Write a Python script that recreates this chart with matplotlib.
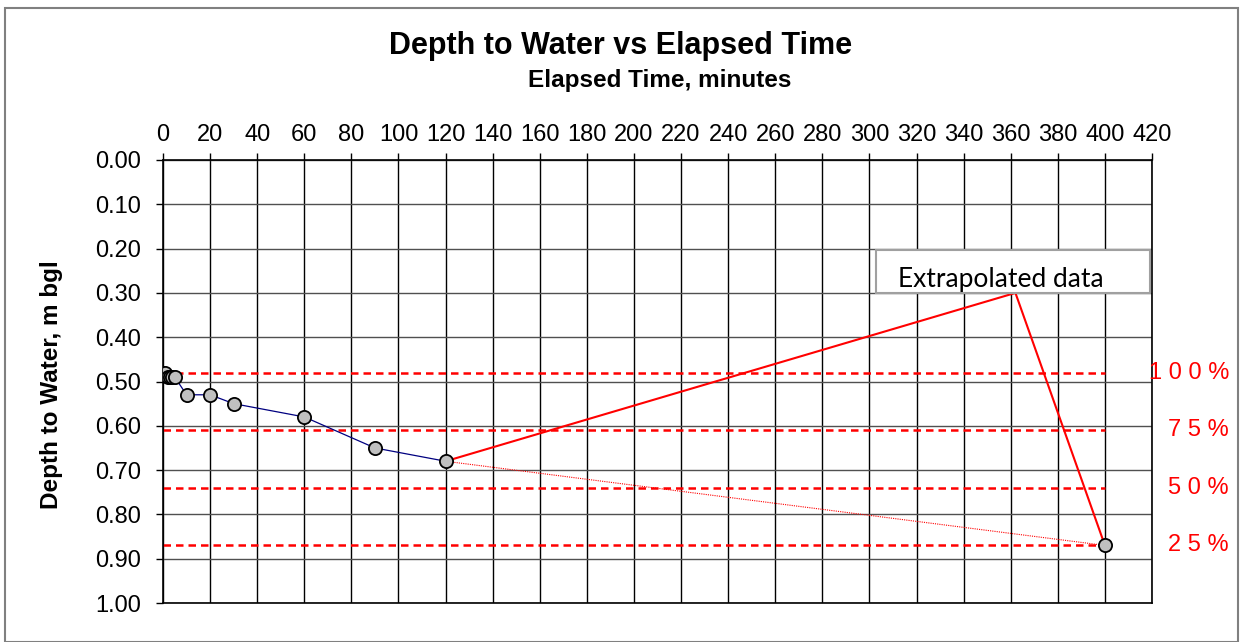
import matplotlib
matplotlib.use("Agg")
import matplotlib.pyplot as plt
from matplotlib.patches import Rectangle

plt.rcParams['font.family'] = ['Liberation Sans', 'DejaVu Sans']

# Measured data
time_min = [0, 1, 2, 3, 4, 5, 10, 20, 30, 60, 90, 120]
depth_m = [0.48, 0.48, 0.49, 0.49, 0.49, 0.49, 0.53, 0.53, 0.55, 0.58, 0.65, 0.68]

# Extrapolated point
extrap_time = [400]
extrap_depth = [0.87]

# Extrapolation guide line (solid red)
guide_time = [120, 362, 400]
guide_depth = [0.68, 0.30, 0.87]

# Recovery levels
level_labels = ["1 0 0 %", "7 5 %", "5 0 %", "2 5 %"]
level_depths = [0.48, 0.61, 0.74, 0.87]
level_xmax = 400

x_ticks = list(range(0, 421, 20))
y_ticks = [round(0.1 * i, 1) for i in range(11)]

fig = plt.figure(figsize=(12.43, 6.42), dpi=100)
# outer border
fig.patches.append(Rectangle((5/1243, 0.0), 1233/1243, 1 - 8/642, transform=fig.transFigure,
                             fill=False, edgecolor='#808080', linewidth=1.5))

ax = fig.add_axes([163/1243, 1 - 603/642, (1152 - 163)/1243, (603 - 160)/642])
ax.set_xlim(0, 420)
ax.set_ylim(1.0, 0.0)
ax.set_xticks(x_ticks)
ax.set_yticks(y_ticks)
ax.set_yticklabels([f"{v:.2f}" for v in y_ticks])
ax.xaxis.tick_top()
ax.tick_params(axis='both', direction='out', length=5, width=1, labelsize=17, colors='black')
ax.tick_params(axis='y', pad=11)
ax.tick_params(axis='x', pad=5)
for s in ax.spines.values():
    s.set_color('black')
    s.set_linewidth(1.2)

for xv in x_ticks:
    ax.axvline(xv, color='black', linewidth=1.0, zorder=1)
for yv in y_ticks:
    ax.axhline(yv, color='#505050', linewidth=1.0, zorder=1)

# recovery levels
for d, lab in zip(level_depths, level_labels):
    ax.plot([0, level_xmax], [d, d], color='red', linestyle=(0, (3, 2)), linewidth=1.8, zorder=2)
    ax.annotate(lab, xy=(1229/1243, d), xycoords=('figure fraction', 'data'),
                color='red', fontsize=17, va='center', ha='right', annotation_clip=False)

# guide lines
ax.plot(guide_time, guide_depth, color='red', linewidth=1.5, zorder=3)
ax.plot([time_min[-1], extrap_time[0]], [depth_m[-1], extrap_depth[0]], color='red',
        linestyle=(0, (1, 1)), linewidth=0.8, zorder=3)

# data
ax.plot(time_min, depth_m, color='#000080', linewidth=0.9, marker='o', markersize=9.5,
        markerfacecolor='#c0c0c0', markeredgecolor='black', markeredgewidth=1.3, zorder=4)
ax.plot(extrap_time, extrap_depth, linestyle='none', marker='o', markersize=9.5,
        markerfacecolor='#c0c0c0', markeredgecolor='black', markeredgewidth=1.3, zorder=4)

# extrapolated label box
ax.add_patch(Rectangle((303, 0.203), 116, 0.097, facecolor='white', edgecolor='#a0a0a0',
                       linewidth=1.5, zorder=5))
ax.text(304 + 8, 0.27, "Extrapolated data", fontsize=19, family=['Lato', 'DejaVu Sans'],
        va='center', ha='left', zorder=6)

fig.text(621/1243, 1 - 46/642, "Depth to Water vs Elapsed Time", fontsize=22, fontweight='bold',
         ha='center', va='center')
fig.text(660/1243, 1 - 80/642, "Elapsed Time, minutes", fontsize=17.5, fontweight='bold',
         ha='center', va='center')
fig.text(52/1243, 1 - 385/642, "Depth to Water, m bgl", fontsize=17.5, fontweight='bold',
         ha='center', va='center', rotation=90)

fig.savefig("out.png", dpi=100)
